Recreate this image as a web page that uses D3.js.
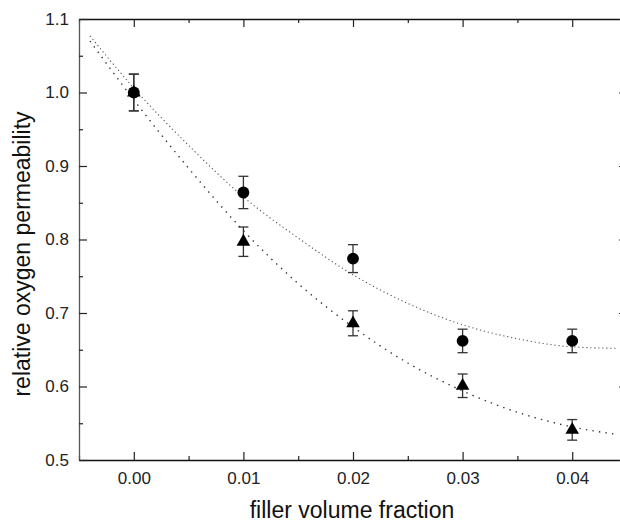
<!DOCTYPE html>
<html>
<head>
<meta charset="utf-8">
<script src="https://cdn.jsdelivr.net/npm/d3@7"></script>
<style>
  html, body { margin: 0; padding: 0; background: #fff; }
  svg { display: block; font-family: "Liberation Sans", Arial, Helvetica, sans-serif; }
</style>
</head>
<body>
<svg id="chart" width="620" height="522"></svg>
<script>
// ---- data ----
const fillerFractions = [0.00, 0.01, 0.02, 0.03, 0.04];
const circleValues = [1.000, 0.864, 0.774, 0.662, 0.662];
const circleErrors = [0.025, 0.022, 0.019, 0.016, 0.016];
const triangleValues = [1.000, 0.797, 0.686, 0.601, 0.541];
const triangleErrors = [0.025, 0.020, 0.017, 0.016, 0.014];

// fitted curves
const fitX = [-0.004, 0.000, 0.005, 0.010, 0.015, 0.020, 0.025, 0.030, 0.035, 0.040, 0.044];
const circleFit = [1.077, 1.006, 0.928, 0.858, 0.802, 0.752, 0.713, 0.684, 0.665, 0.654, 0.652];
const triangleFit = [1.070, 0.990, 0.897, 0.812, 0.740, 0.681, 0.632, 0.594, 0.565, 0.545, 0.535];

const xMajorTicks = [0.00, 0.01, 0.02, 0.03, 0.04];
const xMinorTicks = [-0.005, 0.005, 0.015, 0.025, 0.035, 0.045];
const yMajorTicks = [0.5, 0.6, 0.7, 0.8, 0.9, 1.0, 1.1];
const yMinorTicks = [0.55, 0.65, 0.75, 0.85, 0.95, 1.05];

const xTitle = "filler volume fraction";
const yTitle = "relative oxygen permeability";

// ---- layout ----
const svg = d3.select("#chart");
const mLeft = 79, mTop = 19, mRight = 627, mBottom = 460;

const x = d3.scaleLinear().domain([-0.005, 0.045]).range([mLeft, mRight]);
const y = d3.scaleLinear().domain([0.5, 1.1]).range([mBottom, mTop]);

const tickFont = 17;

// bottom axis
const gBottom = svg.append("g").attr("transform", `translate(0,${mBottom})`);
gBottom.call(d3.axisBottom(x).tickValues(xMajorTicks).tickSizeInner(-8).tickSizeOuter(0)
  .tickPadding(12).tickFormat(d3.format(".2f")));
svg.append("g").attr("transform", `translate(0,${mBottom})`)
  .call(d3.axisBottom(x).tickValues(xMinorTicks).tickSizeInner(-4).tickSizeOuter(0).tickFormat(""))
  .select(".domain").remove();

// top axis
svg.append("g").attr("transform", `translate(0,${mTop})`)
  .call(d3.axisTop(x).tickValues(xMajorTicks).tickSizeInner(-8).tickSizeOuter(0).tickFormat(""));
svg.append("g").attr("transform", `translate(0,${mTop})`)
  .call(d3.axisTop(x).tickValues(xMinorTicks).tickSizeInner(-4).tickSizeOuter(0).tickFormat(""))
  .select(".domain").remove();

// left axis
const gLeft = svg.append("g").attr("transform", `translate(${mLeft},0)`);
gLeft.call(d3.axisLeft(y).tickValues(yMajorTicks).tickSizeInner(-8).tickSizeOuter(0)
  .tickPadding(10).tickFormat(d3.format(".1f")));
svg.append("g").attr("transform", `translate(${mLeft},0)`)
  .call(d3.axisLeft(y).tickValues(yMinorTicks).tickSizeInner(-4).tickSizeOuter(0).tickFormat(""))
  .select(".domain").remove();

// right axis
svg.append("g").attr("transform", `translate(${mRight},0)`)
  .call(d3.axisRight(y).tickValues(yMajorTicks).tickSizeInner(-8).tickSizeOuter(0).tickFormat(""));
svg.append("g").attr("transform", `translate(${mRight},0)`)
  .call(d3.axisRight(y).tickValues(yMinorTicks).tickSizeInner(-4).tickSizeOuter(0).tickFormat(""))
  .select(".domain").remove();

svg.selectAll(".tick line").attr("stroke", "#222").attr("stroke-width", 1.2);
svg.selectAll(".domain").attr("stroke", "#111").attr("stroke-width", 1.3);
gLeft.select(".domain").attr("stroke", "#555");
svg.selectAll(".tick text").attr("font-size", tickFont).attr("fill", "#222")
  .attr("font-family", "'Liberation Sans', Arial, sans-serif");

// ---- fit curves ----
const line = d3.line().x(d => x(d[0])).y(d => y(d[1])).curve(d3.curveMonotoneX);
svg.append("path")
  .attr("d", line(fitX.map((v, i) => [v, circleFit[i]])))
  .attr("fill", "none").attr("stroke", "#555").attr("stroke-width", 1.1)
  .attr("stroke-dasharray", "1.2,2.8");
svg.append("path")
  .attr("d", line(fitX.map((v, i) => [v, triangleFit[i]])))
  .attr("fill", "none").attr("stroke", "#333").attr("stroke-width", 1.4)
  .attr("stroke-dasharray", "1.4,5.2");

// ---- error bars ----
function errorBars(vals, errs) {
  const g = svg.append("g").attr("stroke", "#333").attr("stroke-width", 1.3);
  fillerFractions.forEach((fx, i) => {
    const cx = x(fx), y1 = y(vals[i] + errs[i]), y2 = y(vals[i] - errs[i]);
    g.append("line").attr("x1", cx).attr("x2", cx).attr("y1", y1).attr("y2", y2);
    g.append("line").attr("x1", cx - 5).attr("x2", cx + 5).attr("y1", y1).attr("y2", y1);
    g.append("line").attr("x1", cx - 5).attr("x2", cx + 5).attr("y1", y2).attr("y2", y2);
  });
}
errorBars(triangleValues, triangleErrors);
errorBars(circleValues, circleErrors);

// ---- markers ----
svg.append("g").selectAll("path.tri")
  .data(fillerFractions.map((fx, i) => [fx, triangleValues[i]]))
  .join("path").attr("class", "tri")
  .attr("transform", d => `translate(${x(d[0])},${y(d[1])})`)
  .attr("d", d3.symbol().type(d3.symbolTriangle).size(80))
  .attr("fill", "#000");
svg.append("g").selectAll("path.circ")
  .data(fillerFractions.map((fx, i) => [fx, circleValues[i]]))
  .join("path").attr("class", "circ")
  .attr("transform", d => `translate(${x(d[0])},${y(d[1])})`)
  .attr("d", d3.symbol().type(d3.symbolCircle).size(110))
  .attr("fill", "#000");

// ---- titles ----
svg.append("text")
  .attr("x", 352).attr("y", 518)
  .attr("text-anchor", "middle").attr("font-size", 23).attr("fill", "#111")
  .text(xTitle);
svg.append("text")
  .attr("transform", "translate(30,254) rotate(-90)")
  .attr("text-anchor", "middle").attr("font-size", 23).attr("fill", "#111")
  .text(yTitle);
</script>
</body>
</html>
